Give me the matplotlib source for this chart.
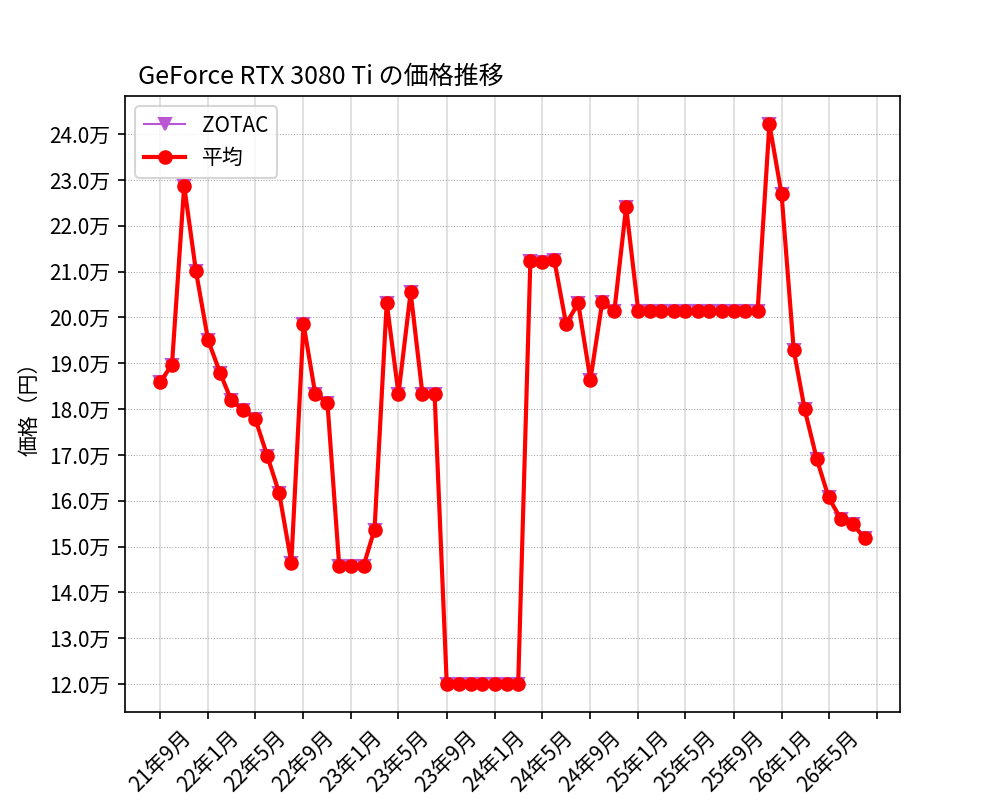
import matplotlib
matplotlib.use("Agg")
import matplotlib.pyplot as plt
import matplotlib.dates as mdates
from matplotlib.ticker import FuncFormatter, MultipleLocator
import pandas as pd

plt.rcParams['font.family'] = ['Noto Sans CJK JP', 'DejaVu Sans']

# 月ごとの価格（円） 2021年9月〜
months = pd.date_range('2021-09-01', periods=60, freq='MS')
zotac = [185900, 189700, 228700, 210100, 195000, 187800, 181900, 179700,
         177900, 169700, 161700, 146500, 198600, 183300, 181400, 145800,
         145800, 145800, 153700, 203200, 183300, 205500, 183300, 183300,
         120000, 120000, 120000, 120000, 120000, 120000, 120000,
         212300, 212100, 212500, 198600, 203100, 186400, 203300, 201400,
         224100,
         201400, 201400, 201400, 201400, 201400, 201400, 201400, 201400,
         201400, 201400, 201400,
         242200, 226900, 192900, 179900, 169000, 160700, 156000, 154900,
         151800]
heikin = list(zotac)  # ZOTACのみなので平均も同じ

fig, ax = plt.subplots(figsize=(1000 / 150, 800 / 150), dpi=150)

ax.plot(months, zotac, marker='v', color='mediumorchid', linewidth=1, label='ZOTAC')
ax.plot(months, heikin, marker='o', color='red', linewidth=2, label='平均')

ax.set_title('GeForce RTX 3080 Ti の価格推移', loc='left', x=0.017)
ax.set_ylabel('価格（円）')

ax.yaxis.set_major_locator(MultipleLocator(10000))
ax.yaxis.set_major_formatter(FuncFormatter(lambda v, p: f'{v / 10000:.1f}万'))

last = months[-1]
def fmt_month(v, p):
    d = mdates.num2date(v)
    if d.replace(tzinfo=None) > last.to_pydatetime():
        return ''
    return f'{d.year % 100}年{d.month}月'

ax.xaxis.set_major_locator(mdates.MonthLocator(bymonth=(1, 5, 9)))
ax.xaxis.set_major_formatter(FuncFormatter(fmt_month))
plt.setp(ax.get_xticklabels(), rotation=45)

ax.grid(axis='x', color='lightgray', linewidth=0.8, alpha=0.8)
ax.grid(axis='y', color='gray', linestyle=':', linewidth=0.5, alpha=0.7)

ax.legend(loc='upper left')

fig.savefig('out.png')
